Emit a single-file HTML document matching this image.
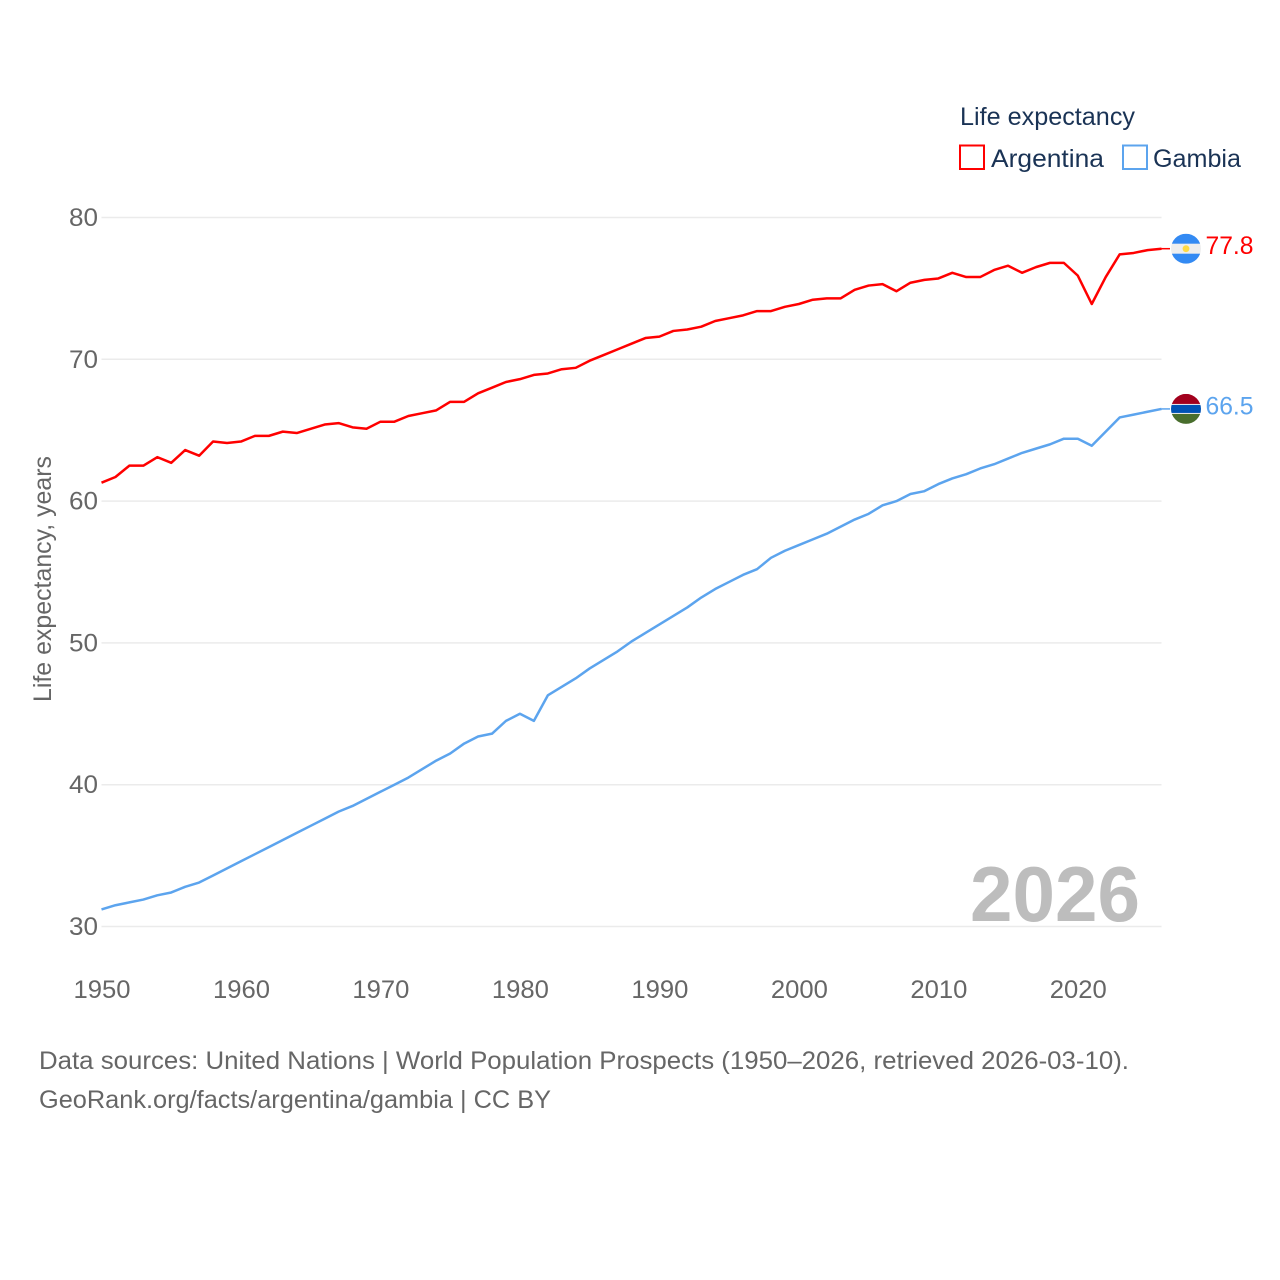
<!DOCTYPE html>
<html lang="en">
<head>
<meta charset="utf-8">
<title>Life expectancy: Argentina and Gambia</title>
<style>
html,body{margin:0;padding:0;background:#fff;}
svg{display:block;font-family:"Liberation Sans",sans-serif;}
</style>
</head>
<body>
<svg id="chart" width="1280" height="1280" viewBox="0 0 1280 1280" xmlns="http://www.w3.org/2000/svg">
  <defs>
    <clipPath id="flag-clip"><circle cx="0" cy="0" r="15"></circle></clipPath>
  </defs>
  <rect width="1280" height="1280" fill="#ffffff"></rect>
  <g id="grid"></g>
  <g id="yticks"></g>
  <g id="xticks"></g>
  <text transform="translate(51,702) rotate(-90)" font-size="25" fill="#666666" textLength="246" lengthAdjust="spacingAndGlyphs">Life expectancy, years</text>
  <text x="970" y="921" font-size="78" font-weight="700" fill="#bdbdbd" textLength="170" lengthAdjust="spacingAndGlyphs">2026</text>

  <g id="series"></g>

  <g id="flag-argentina" clip-path="url(#flag-clip)">
    <rect x="-15" y="-15" width="30" height="30" fill="#eeeeee"></rect>
    <rect x="-15" y="-15" width="30" height="10" fill="#338af3"></rect>
    <rect x="-15" y="5" width="30" height="10" fill="#338af3"></rect>
    <circle cx="0" cy="0" r="3.4" fill="#ffda44"></circle>
  </g>
  <g id="flag-gambia" clip-path="url(#flag-clip)">
    <rect x="-15" y="-15" width="30" height="30" fill="#eeeeee"></rect>
    <rect x="-15" y="-15" width="30" height="10" fill="#a2001d"></rect>
    <rect x="-15" y="-4" width="30" height="8" fill="#0052b4"></rect>
    <rect x="-15" y="5" width="30" height="10" fill="#496e2d"></rect>
  </g>
  <text id="value-argentina" x="1205.5" font-size="25" fill="#ff0000" textLength="48" lengthAdjust="spacingAndGlyphs"></text>
  <text id="value-gambia" x="1205.5" font-size="25" fill="#5ca4ee" textLength="48" lengthAdjust="spacingAndGlyphs"></text>

  <g>
    <text x="960" y="125" font-size="25" fill="#1a3355" textLength="175" lengthAdjust="spacingAndGlyphs">Life expectancy</text>
    <g>
      <rect x="960" y="145.5" width="24" height="23.5" fill="none" stroke="#ff0000" stroke-width="2"></rect>
      <text x="991" y="167" font-size="25" fill="#1a3355" textLength="113" lengthAdjust="spacingAndGlyphs">Argentina</text>
    </g>
    <g>
      <rect x="1123" y="145.5" width="24" height="23.5" fill="none" stroke="#5ca4ee" stroke-width="2"></rect>
      <text x="1153" y="167" font-size="25" fill="#1a3355" textLength="88" lengthAdjust="spacingAndGlyphs">Gambia</text>
    </g>
  </g>

  <text x="39" y="1069" font-size="25" fill="#666666" textLength="1090" lengthAdjust="spacingAndGlyphs">Data sources: United Nations | World Population Prospects (1950–2026, retrieved 2026-03-10).</text>
  <text x="39" y="1108" font-size="25" fill="#666666" textLength="512" lengthAdjust="spacingAndGlyphs">GeoRank.org/facts/argentina/gambia | CC BY</text>
</svg>
<script>
const firstYear = 1950;
const lastYear = 2026;
const yTicks = [30, 40, 50, 60, 70, 80];
const xTicks = [1950, 1960, 1970, 1980, 1990, 2000, 2010, 2020];
const argentina = [61.3,61.7,62.5,62.5,63.1,62.7,63.6,63.2,64.2,64.1,64.2,64.6,64.6,64.9,64.8,65.1,65.4,65.5,65.2,65.1,65.6,65.6,66.0,66.2,66.4,67.0,67.0,67.6,68.0,68.4,68.6,68.9,69.0,69.3,69.4,69.9,70.3,70.7,71.1,71.5,71.6,72.0,72.1,72.3,72.7,72.9,73.1,73.4,73.4,73.7,73.9,74.2,74.3,74.3,74.9,75.2,75.3,74.8,75.4,75.6,75.7,76.1,75.8,75.8,76.3,76.6,76.1,76.5,76.8,76.8,75.9,73.9,75.8,77.4,77.5,77.7,77.8];
const gambia = [31.2,31.5,31.7,31.9,32.2,32.4,32.8,33.1,33.6,34.1,34.6,35.1,35.6,36.1,36.6,37.1,37.6,38.1,38.5,39.0,39.5,40.0,40.5,41.1,41.7,42.2,42.9,43.4,43.6,44.5,45.0,44.5,46.3,46.9,47.5,48.2,48.8,49.4,50.1,50.7,51.3,51.9,52.5,53.2,53.8,54.3,54.8,55.2,56.0,56.5,56.9,57.3,57.7,58.2,58.7,59.1,59.7,60.0,60.5,60.7,61.2,61.6,61.9,62.3,62.6,63.0,63.4,63.7,64.0,64.4,64.4,63.9,64.9,65.9,66.1,66.3,66.5];

const NS = 'http://www.w3.org/2000/svg';
const plotLeft = 101.5, plotRight = 1161.5, plotTop = 217.5, plotBottom = 926.5;
function xScale(year) {
  return plotLeft + (year - firstYear) / (lastYear - firstYear) * (plotRight - plotLeft);
}
function yScale(value) {
  return plotBottom - (value - 30) / 50 * (plotBottom - plotTop);
}
const gridGroup = document.getElementById('grid');
const yGroup = document.getElementById('yticks');
const xGroup = document.getElementById('xticks');
const seriesGroup = document.getElementById('series');

yTicks.forEach(function (tick) {
  const line = document.createElementNS(NS, 'line');
  
  
  line.setAttribute('x1', plotLeft);
  line.setAttribute('x2', plotRight);
  line.setAttribute('y1', yScale(tick));
  line.setAttribute('y2', yScale(tick));
  line.setAttribute('stroke', '#ebebeb');
  line.setAttribute('stroke-width', '1.5');
  gridGroup.appendChild(line);

  const label = document.createElementNS(NS, 'text');
  
  
  label.setAttribute('x', 69);
  label.setAttribute('y', yScale(tick) + 8.5);
  label.setAttribute('font-size', '25');
  label.setAttribute('fill', '#666666');
  label.setAttribute('textLength', '29');
  label.setAttribute('lengthAdjust', 'spacingAndGlyphs');
  label.textContent = tick;
  yGroup.appendChild(label);
});

xTicks.forEach(function (tick) {
  const label = document.createElementNS(NS, 'text');
  
  
  label.setAttribute('x', xScale(tick) - 28);
  label.setAttribute('y', 998);
  label.setAttribute('font-size', '25');
  label.setAttribute('fill', '#666666');
  label.setAttribute('textLength', '57');
  label.setAttribute('lengthAdjust', 'spacingAndGlyphs');
  label.textContent = tick;
  xGroup.appendChild(label);
});

function linePoints(values) {
  return values.map(function (v, i) {
    return xScale(firstYear + i).toFixed(2) + ',' + yScale(v).toFixed(2);
  }).join(' ');
}

const lineArgentina = document.createElementNS(NS, 'polyline');


lineArgentina.setAttribute('points', linePoints(argentina));
lineArgentina.setAttribute('fill', 'none');
lineArgentina.setAttribute('stroke', '#ff0000');
lineArgentina.setAttribute('stroke-width', '2.5');
lineArgentina.setAttribute('stroke-linejoin', 'round');
seriesGroup.appendChild(lineArgentina);

const lineGambia = document.createElementNS(NS, 'polyline');


lineGambia.setAttribute('points', linePoints(gambia));
lineGambia.setAttribute('fill', 'none');
lineGambia.setAttribute('stroke', '#5ca4ee');
lineGambia.setAttribute('stroke-width', '2.5');
lineGambia.setAttribute('stroke-linejoin', 'round');
seriesGroup.appendChild(lineGambia);

const endA = yScale(argentina[argentina.length - 1]);
const endG = yScale(gambia[gambia.length - 1]);

const connectorA = document.createElementNS(NS, 'line');


connectorA.setAttribute('x1', plotRight);
connectorA.setAttribute('x2', 1170);
connectorA.setAttribute('y1', endA);
connectorA.setAttribute('y2', endA);
connectorA.setAttribute('stroke', '#ff0000');
connectorA.setAttribute('stroke-width', '1.5');
seriesGroup.appendChild(connectorA);

const connectorG = document.createElementNS(NS, 'line');


connectorG.setAttribute('x1', plotRight);
connectorG.setAttribute('x2', 1170);
connectorG.setAttribute('y1', endG);
connectorG.setAttribute('y2', endG);
connectorG.setAttribute('stroke', '#5ca4ee');
connectorG.setAttribute('stroke-width', '1.5');
seriesGroup.appendChild(connectorG);

document.getElementById('flag-argentina').setAttribute('transform', 'translate(1186,' + endA + ')');
document.getElementById('flag-gambia').setAttribute('transform', 'translate(1186,' + endG + ')');

const valueA = document.getElementById('value-argentina');
valueA.setAttribute('y', endA + 5.5);
valueA.textContent = argentina[argentina.length - 1].toFixed(1);
const valueG = document.getElementById('value-gambia');
valueG.setAttribute('y', endG + 5.5);
valueG.textContent = gambia[gambia.length - 1].toFixed(1);
</script>
</body>
</html>
